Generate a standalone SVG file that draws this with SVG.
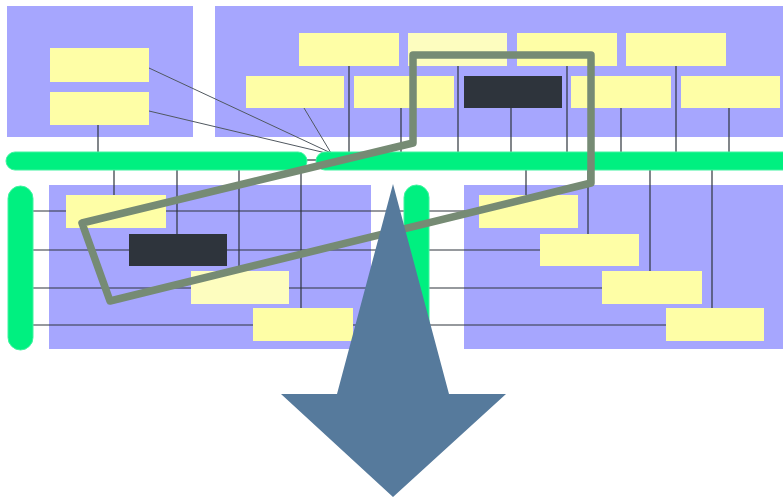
<svg xmlns="http://www.w3.org/2000/svg" width="783" height="498" viewBox="0 0 783 498">
<style>
.panel{fill:#a6a6fe}
.box{fill:#fefea6}
.boxl{fill:#fdfdbf}
.dark{fill:#2e343c}
.bar{fill:#00f080;stroke:#40f4a0;stroke-width:1}
.ln{stroke:#2e343c;stroke-width:1.2;fill:none}
.dg{stroke:#505860;stroke-width:1;fill:none}
</style>
<rect width="783" height="498" fill="#ffffff"/>
<g id="panels">
<rect id="panel-tl" class="panel" x="7" y="6" width="186" height="131"/>
<rect id="panel-tr" class="panel" x="215" y="6" width="568" height="131"/>
<rect id="panel-bl" class="panel" x="49" y="185" width="322" height="164"/>
<rect id="panel-br" class="panel" x="464" y="185" width="319" height="164"/>
</g>
<g id="connectors">
<line class="dg" x1="149" y1="68" x2="331" y2="153"/>
<line class="dg" x1="149" y1="111" x2="326" y2="153"/>
<line class="dg" x1="304" y1="108" x2="331" y2="153"/>
<line class="ln" x1="98" y1="125" x2="98" y2="153"/>
<line class="ln" x1="349" y1="66" x2="349" y2="153"/>
<line class="ln" x1="458" y1="66" x2="458" y2="153"/>
<line class="ln" x1="567" y1="66" x2="567" y2="153"/>
<line class="ln" x1="676" y1="66" x2="676" y2="153"/>
<line class="ln" x1="401" y1="108" x2="401" y2="153"/>
<line class="ln" x1="511" y1="108" x2="511" y2="153"/>
<line class="ln" x1="621" y1="108" x2="621" y2="153"/>
<line class="ln" x1="729" y1="108" x2="729" y2="153"/>
<line class="ln" x1="305" y1="160" x2="318" y2="160"/>
<line class="ln" x1="114" y1="170" x2="114" y2="195"/>
<line class="ln" x1="177" y1="170" x2="177" y2="234"/>
<line class="ln" x1="239" y1="170" x2="239" y2="271"/>
<line class="ln" x1="301" y1="170" x2="301" y2="308"/>
<line class="ln" x1="526" y1="170" x2="526" y2="195"/>
<line class="ln" x1="588" y1="170" x2="588" y2="234"/>
<line class="ln" x1="650" y1="170" x2="650" y2="271"/>
<line class="ln" x1="712" y1="170" x2="712" y2="308"/>
<line class="ln" x1="33" y1="211" x2="479" y2="211"/>
<line class="ln" x1="33" y1="250" x2="540" y2="250"/>
<line class="ln" x1="33" y1="288" x2="602" y2="288"/>
<line class="ln" x1="33" y1="325" x2="666" y2="325"/>
</g>
<g id="bars">
<rect id="bar-top-a" class="bar" x="6" y="152" width="301" height="18" rx="9"/>
<rect id="bar-top-b" class="bar" x="316" y="152" width="480" height="18" rx="9"/>
<rect id="bar-left" class="bar" x="8" y="186" width="25" height="164" rx="12.5"/>
<rect id="bar-mid" class="bar" x="404" y="185" width="25" height="165" rx="12.5"/>
</g>
<g id="n1"><rect class="box" x="50" y="48" width="99" height="34"/></g>
<g id="n2"><rect class="box" x="50" y="92" width="99" height="33"/></g>
<g id="n3"><rect class="box" x="299" y="33" width="100" height="33"/></g>
<g id="n4"><rect class="boxl" x="408" y="33" width="99" height="33"/></g>
<g id="n5"><rect class="box" x="517" y="33" width="100" height="33"/></g>
<g id="n6"><rect class="box" x="626" y="33" width="100" height="33"/></g>
<g id="n7"><rect class="box" x="246" y="76" width="98" height="32"/></g>
<g id="n8"><rect class="box" x="354" y="76" width="100" height="32"/></g>
<g id="n9"><rect class="dark" x="464" y="76" width="98" height="32"/></g>
<g id="n10"><rect class="box" x="571" y="76" width="100" height="32"/></g>
<g id="n11"><rect class="box" x="681" y="76" width="99" height="32"/></g>
<g id="n12"><rect class="box" x="66" y="195" width="100" height="33"/></g>
<g id="n13"><rect class="dark" x="129" y="234" width="98" height="32"/></g>
<g id="n14"><rect class="boxl" x="191" y="271" width="98" height="33"/></g>
<g id="n15"><rect class="box" x="253" y="308" width="100" height="33"/></g>
<g id="n16"><rect class="box" x="479" y="195" width="99" height="33"/></g>
<g id="n17"><rect class="box" x="540" y="234" width="99" height="32"/></g>
<g id="n18"><rect class="box" x="602" y="271" width="100" height="33"/></g>
<g id="n19"><rect class="box" x="666" y="308" width="98" height="33"/></g>
<g id="selection">
<polygon points="413,143 413,55 591,55 591,183 110,301 82,223" fill="none" stroke="#768b74" stroke-width="7.5" stroke-linejoin="round"/>
</g>
<g id="arrow">
<polygon points="393,184 449,394 506,394 393,497 281,394 337,394" fill="#567a9c"/>
</g>
</svg>
